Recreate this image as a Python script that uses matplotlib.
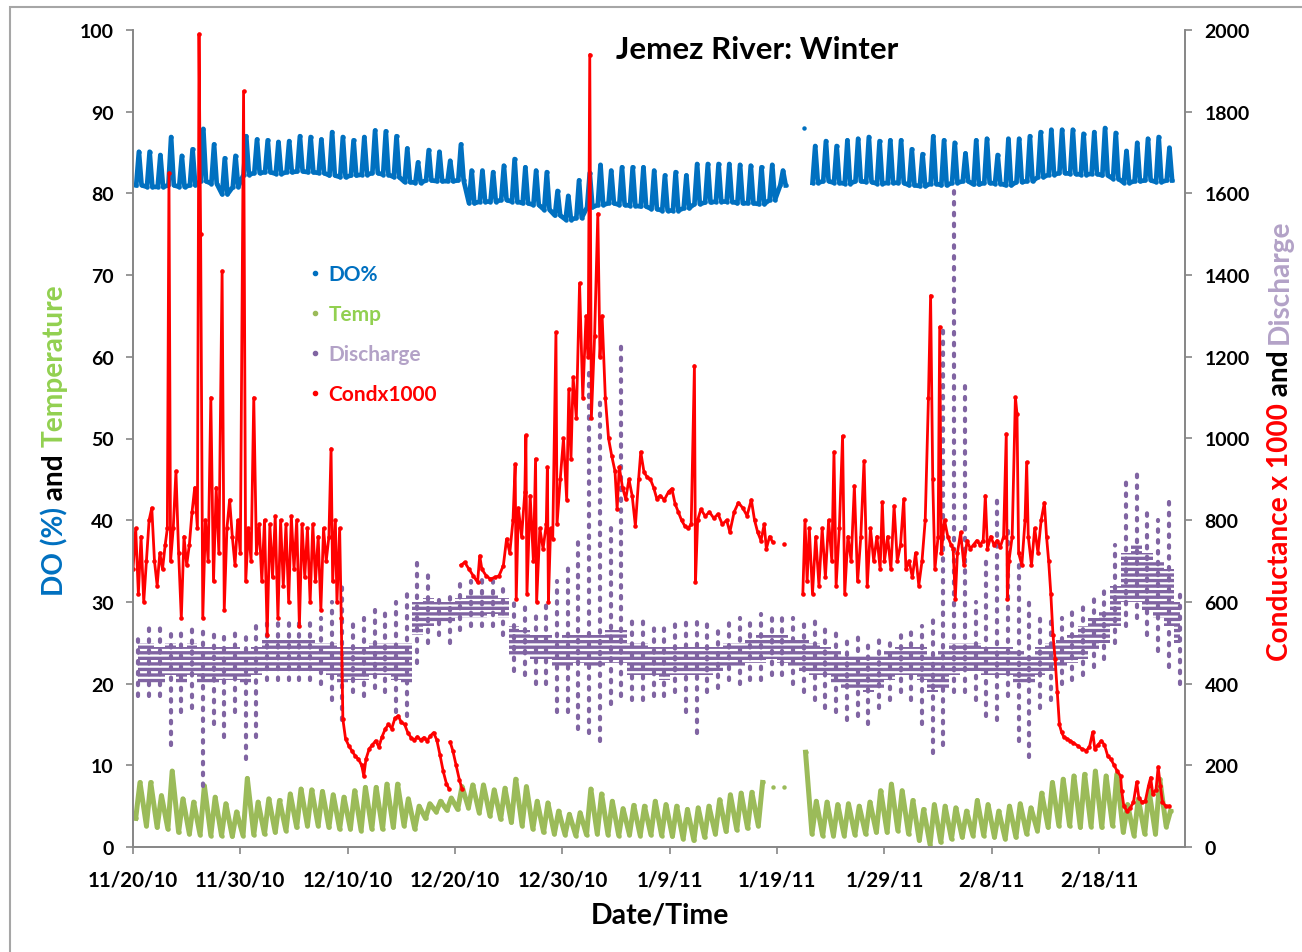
import numpy as np
import matplotlib
matplotlib.use("Agg")
import matplotlib.pyplot as plt
from matplotlib.lines import Line2D
from matplotlib.patches import Rectangle

nan = np.nan

# day 0 = 11/20/10, one value per day
date_labels = ["11/20/10", "11/30/10", "12/10/10", "12/20/10", "12/30/10",
               "1/9/11", "1/19/11", "1/29/11", "2/8/11", "2/18/11"]

# DO % : daily peak and daily base
do_hi = [85.1, 85.1, 84.7, 86.9, 84.6, 85.4, 87.9, 86.0, 84.3, 84.6,
         87.0, 86.6, 86.5, 86.3, 86.4, 87.0, 86.9, 86.6, 87.5, 86.9,
         86.5, 86.9, 87.7, 87.6, 87.0, 85.5, 83.8, 85.3, 85.1, 84.0,
         86.0, 82.8, 82.8, 82.6, 83.4, 84.2, 83.2, 82.8, 82.6, 80.3,
         79.7, 81.6, 82.5, 83.5, 82.8, 83.2, 83.2, 83.2, 82.8, 82.2,
         82.6, 82.2, 83.6, 83.6, 83.6, 83.6, 83.5, 83.4, 83.2, 83.5,
         82.8, nan, 88.0, 85.8, 86.4, 85.8, 86.5, 86.7, 86.9, 86.4,
         86.5, 86.5, 85.4, 84.8, 87.0, 86.5, 86.2, 84.9, 86.5, 86.7,
         84.7, 86.7, 86.7, 87.0, 87.5, 87.8, 87.8, 87.8, 87.3, 87.5,
         88.0, 87.4, 85.2, 86.2, 86.7, 86.9, 85.6]
do_lo = [81.0, 80.8, 80.8, 81.0, 80.8, 81.0, 81.5, 81.2, 79.9, 80.8,
         82.3, 82.5, 82.6, 82.4, 82.6, 82.7, 82.6, 82.5, 82.2, 82.0,
         82.2, 82.3, 82.5, 82.3, 82.0, 81.4, 81.3, 81.6, 81.5, 81.5,
         81.6, 78.8, 79.0, 79.0, 79.2, 79.0, 78.8, 78.6, 78.0, 77.3,
         76.8, 77.0, 78.3, 78.6, 78.8, 78.6, 78.5, 78.4, 78.1, 77.9,
         77.9, 78.2, 78.7, 78.9, 79.0, 79.0, 78.8, 78.8, 78.7, 79.2,
         81.0, nan, nan, 81.3, 81.5, 81.3, 81.2, 81.5, 81.4, 81.2,
         81.3, 81.3, 81.0, 80.9, 81.2, 81.0, 81.3, 81.5, 81.1, 81.3,
         81.2, 81.0, 81.4, 81.5, 82.0, 82.3, 82.5, 82.4, 82.3, 82.4,
         82.2, 81.8, 81.3, 81.5, 81.6, 81.4, 81.6]

# Temperature : daily max and min
temp_hi = [7.9, 7.9, 6.3, 9.3, 5.9, 5.5, 7.5, 6.1, 5.3, 4.3,
           8.4, 5.5, 5.9, 5.7, 6.5, 7.1, 7.0, 6.8, 6.4, 6.1,
           6.9, 7.3, 7.3, 7.7, 7.7, 5.9, 5.0, 5.3, 5.6, 6.0,
           7.4, 7.6, 7.6, 7.0, 7.2, 8.3, 7.4, 5.6, 5.4, 4.4,
           4.0, 4.2, 7.1, 6.5, 5.6, 4.7, 5.1, 5.0, 5.6, 5.2,
           5.0, 4.6, 4.8, 5.0, 5.8, 6.4, 6.6, 6.7, 7.9, 7.3,
           7.3, nan, 11.6, 5.6, 5.5, 5.2, 5.3, 5.0, 5.5, 6.9,
           7.7, 6.9, 5.7, 4.6, 5.2, 5.0, 4.8, 4.4, 5.7, 5.2,
           4.4, 5.0, 5.3, 4.8, 6.6, 7.9, 8.3, 8.7, 8.9, 9.3,
           8.7, 8.9, 5.2, 5.9, 6.9, 8.3, 4.4]
temp_lo = [3.5, 2.6, 2.4, 2.2, 1.8, 1.6, 1.5, 1.4, 1.4, 1.3,
           1.4, 1.5, 1.6, 1.8, 2.0, 2.4, 2.6, 2.6, 2.4, 2.2,
           2.2, 2.0, 2.2, 2.2, 2.4, 2.6, 2.2, 3.5, 4.3, 4.5,
           4.6, 4.8, 4.2, 3.8, 3.4, 3.0, 2.6, 2.2, 1.8, 1.6,
           1.5, 1.4, 1.5, 1.6, 1.5, 1.4, 1.5, 1.4, 1.5, 1.4,
           1.3, 1.0, 0.8, 1.2, 1.6, 1.9, 2.1, 2.3, 2.6, nan,
           nan, nan, nan, 1.6, 1.4, 1.4, 1.4, 1.5, 1.6, 1.8,
           1.8, 2.0, 1.6, 0.8, 0.3, 0.6, 1.0, 1.2, 1.4, 1.4,
           1.2, 1.0, 1.2, 1.6, 2.0, 2.4, 2.6, 2.6, 2.4, 2.5,
           2.4, 2.6, 1.8, 1.4, 1.6, 1.6, 2.5]

# Discharge : daily core band and full daily range
q_core_lo = [400, 400, 400, 420, 400, 420, 400, 400, 410, 410,
             400, 420, 430, 430, 430, 430, 430, 430, 420, 400,
             410, 410, 420, 420, 410, 400, 520, 540, 550, 550,
             560, 560, 560, 570, 560, 470, 470, 460, 460, 440,
             440, 450, 440, 440, 450, 450, 420, 420, 420, 410,
             420, 420, 420, 420, 430, 440, 440, 450, 450, 460,
             450, 440, 430, 420, 420, 400, 390, 390, 380, 390,
             410, 420, 420, 410, 380, 390, 420, 430, 430, 420,
             420, 420, 400, 400, 420, 430, 440, 450, 460, 480,
             500, 540, 600, 600, 580, 560, 540, 500]
q_core_hi = [500, 500, 490, 500, 490, 500, 490, 490, 490, 490,
             480, 490, 510, 510, 510, 510, 510, 500, 500, 490,
             490, 490, 500, 500, 500, 500, 600, 610, 600, 600,
             610, 620, 620, 620, 610, 540, 530, 520, 520, 510,
             520, 520, 520, 520, 530, 530, 500, 500, 490, 490,
             490, 490, 490, 490, 490, 500, 500, 510, 520, 520,
             520, 510, 510, 500, 490, 480, 470, 470, 470, 470,
             480, 490, 490, 490, 470, 480, 500, 500, 500, 490,
             490, 490, 480, 470, 490, 500, 510, 520, 540, 560,
             580, 640, 720, 740, 720, 700, 680, 600]
q_lo = [370, 370, 370, 250, 330, 340, 150, 300, 270, 330,
        215, 270, 410, 410, 410, 410, 410, 400, 360, 310,
        380, 370, 390, 380, 330, 320, 450, 500, 520, 500,
        530, 540, 540, 540, 520, 430, 420, 400, 400, 330,
        330, 290, 280, 260, 350, 370, 360, 360, 370, 370,
        380, 330, 280, 380, 390, 410, 400, 410, 410, 420,
        420, 400, 380, 360, 340, 330, 310, 320, 300, 340,
        360, 380, 360, 300, 230, 250, 380, 380, 360, 320,
        310, 370, 260, 220, 340, 360, 400, 410, 420, 440,
        460, 500, 540, 560, 520, 480, 440, 400]
q_hi = [520, 540, 540, 540, 530, 540, 530, 530, 530, 530,
        530, 540, 560, 560, 560, 560, 560, 560, 600, 650,
        560, 560, 580, 580, 600, 620, 710, 680, 620, 630,
        650, 650, 660, 650, 650, 600, 590, 580, 600, 650,
        700, 760, 1180, 1100, 800, 1240, 560, 560, 540, 540,
        560, 560, 560, 560, 540, 560, 560, 560, 570, 580,
        560, 560, 560, 560, 540, 540, 520, 520, 510, 520,
        520, 530, 540, 540, 560, 1280, 1610, 1130, 600, 700,
        860, 780, 700, 600, 560, 560, 560, 580, 600, 620,
        640, 740, 900, 920, 820, 800, 850, 620]

# Conductance x 1000 : (day, value), nan breaks the trace
cond = [(0.0, 680), (0.25, 780), (0.5, 620), (0.75, 760), (1.0, 600), (1.25, 700),
        (1.5, 800), (1.75, 830), (2.0, 700), (2.25, 640), (2.5, 720), (2.75, 680),
        (3.0, 740), (3.2, 780), (3.35, 1650), (3.5, 700), (3.75, 780), (4.0, 920),
        (4.25, 720), (4.5, 560), (4.75, 760), (5.0, 690), (5.25, 740), (5.5, 820),
        (5.75, 880), (6.0, 780), (6.15, 1990), (6.3, 1500), (6.5, 560), (6.75, 800),
        (7.0, 700), (7.25, 1100), (7.5, 650), (7.75, 880), (8.0, 720), (8.3, 1410),
        (8.5, 580), (8.75, 780), (9.0, 850), (9.25, 760), (9.5, 690), (9.75, 800),
        (10.0, 720), (10.3, 1850), (10.5, 650), (10.75, 780), (11.0, 700), (11.25, 1100),
        (11.5, 720), (11.75, 790), (12.0, 650), (12.25, 800), (12.5, 520), (12.75, 790),
        (13.0, 660), (13.25, 810), (13.5, 560), (13.75, 800), (14.0, 640), (14.25, 790),
        (14.5, 600), (14.75, 810), (15.0, 680), (15.25, 800), (15.5, 540), (15.75, 790),
        (16.0, 660), (16.25, 780), (16.5, 600), (16.75, 790), (17.0, 650), (17.25, 760),
        (17.5, 580), (17.75, 780), (18.0, 700), (18.25, 760), (18.45, 975), (18.6, 650),
        (18.85, 800), (19.0, 600), (19.25, 780), (19.4, 560),
        (19.55, 313), (19.8, 265), (20.1, 248), (20.4, 235), (20.7, 223), (21.0, 215),
        (21.3, 200), (21.5, 174), (21.7, 215), (22.0, 240), (22.3, 250), (22.6, 260),
        (22.9, 245), (23.2, 270), (23.5, 289), (23.8, 300), (24.1, 290), (24.4, 315),
        (24.7, 321), (25.0, 305), (25.3, 300), (25.6, 280), (25.9, 268), (26.2, 262),
        (26.5, 270), (26.8, 262), (27.1, 268), (27.4, 260), (27.7, 272), (28.0, 280),
        (28.3, 262), (28.6, 225), (28.9, 185), (29.2, 155), (29.45, 142), (29.5, nan),
        (29.55, 257), (29.8, 235), (30.1, 200), (30.4, 165), (30.65, 142), (30.7, nan),
        (30.55, 690), (30.9, 697), (31.3, 680), (31.7, 664), (32.1, 648), (32.3, 713),
        (32.5, 680), (32.9, 664), (33.3, 656), (33.7, 660), (34.1, 664), (34.5, 689),
        (34.8, 754), (35.1, 720), (35.4, 800), (35.6, 937), (35.7, 607), (35.9, 830),
        (36.2, 760), (36.5, 868), (36.6, 1008), (36.7, 620), (37.0, 860), (37.3, 700),
        (37.5, 950), (37.6, 600), (37.9, 780), (38.2, 730), (38.5, 790), (38.6, 930),
        (38.7, 600), (38.9, 780), (39.1, 755), (39.4, 1260), (39.5, 790), (39.8, 900),
        (40.1, 1000), (40.4, 850), (40.6, 1120), (40.8, 950), (41.0, 1150), (41.3, 1050),
        (41.6, 1380), (41.9, 1100), (42.2, 1300), (42.4, 1200), (42.55, 1940), (42.7, 1050),
        (43.0, 1250), (43.3, 1550), (43.5, 1200), (43.7, 1300), (44.0, 1100), (44.3, 1000),
        (44.6, 957), (44.9, 920), (45.1, 827), (45.3, 930), (45.6, 880), (45.9, 852),
        (46.2, 900), (46.5, 860), (46.8, 786), (47.1, 900), (47.3, 967), (47.6, 918),
        (47.9, 905), (48.2, 900), (48.5, 880), (48.8, 852), (49.1, 860), (49.5, 850),
        (49.9, 870), (50.2, 877), (50.5, 840), (50.8, 820), (51.1, 800), (51.4, 786),
        (51.7, 780), (52.0, 790), (52.3, 1178), (52.4, 648), (52.6, 800), (52.9, 827),
        (53.3, 810), (53.7, 820), (54.1, 805), (54.5, 815), (54.9, 790), (55.3, 800),
        (55.6, 771), (56.0, 820), (56.4, 843), (56.8, 830), (57.2, 811), (57.6, 850),
        (57.9, 800), (58.2, 770), (58.5, 750), (58.8, 790), (59.0, 730), (59.3, 760),
        (59.6, 746), (60.0, nan), (60.6, 742), (61.0, nan),
        (62.4, 620), (62.6, 800), (62.8, 650), (63.0, 780), (63.3, 620), (63.6, 760),
        (63.9, 640), (64.2, 780), (64.5, 660), (64.8, 800), (65.1, 700), (65.3, 967),
        (65.5, 640), (65.8, 780), (66.1, 1006), (66.3, 620), (66.6, 760), (66.9, 700),
        (67.2, 884), (67.5, 650), (67.8, 760), (68.1, 945), (68.4, 640), (68.7, 780),
        (69.0, 700), (69.3, 760), (69.6, 680), (69.8, 844), (70.0, 700), (70.3, 760),
        (70.6, 680), (70.9, 835), (71.2, 700), (71.5, 740), (71.8, 852), (72.0, 680),
        (72.3, 700), (72.6, 660), (72.9, 720), (73.2, 640), (73.5, 700), (73.8, 800),
        (74.1, 1100), (74.3, 1350), (74.5, 900), (74.7, 680), (75.0, 760), (75.15, 1273),
        (75.3, 720), (75.6, 800), (75.9, 760), (76.2, 740), (76.4, 730), (76.6, 607),
        (76.8, 720), (77.1, 770), (77.4, 690), (77.7, 750), (78.0, 730), (78.3, 740),
        (78.6, 750), (78.9, 740), (79.2, 750), (79.4, 860), (79.6, 730), (79.9, 760),
        (80.2, 740), (80.5, 750), (80.8, 735), (81.1, 760), (81.35, 1011), (81.45, 607),
        (81.6, 700), (81.9, 760), (82.2, 1101), (82.35, 1060), (82.5, 720), (82.8, 690),
        (83.1, 800), (83.25, 942), (83.4, 760), (83.7, 690), (84.0, 780), (84.3, 720),
        (84.6, 800), (84.9, 843), (85.1, 760), (85.3, 700), (85.5, 620), (85.7, 520),
        (85.9, 460), (86.1, 380), (86.3, 300), (86.5, 281),
        (86.7, 270), (87.0, 265), (87.3, 260), (87.6, 255), (88.0, 248), (88.4, 240),
        (88.8, 236), (89.1, 245), (89.4, 281), (89.6, 240), (89.9, 250), (90.2, 260),
        (90.5, 250), (90.8, 223), (91.1, 215), (91.4, 200), (91.7, 185), (92.0, 174),
        (92.1, 138), (92.3, 100), (92.6, 88), (92.9, 95), (93.2, 110), (93.5, 159),
        (93.7, 120), (94.0, 110), (94.3, 112), (94.6, 150), (94.8, 170), (95.0, 130),
        (95.3, 140), (95.5, 196), (95.7, 150), (95.9, 110), (96.2, 100), (96.5, 100)]

c_do = "#0070C0"
c_temp = "#9BBB59"
c_q = "#8064A2"
c_q_text = "#B3A2C7"
c_cond = "#FF0000"
c_temp_text = "#92D050"
grey = "#868686"

plt.rcParams["font.family"] = ["Lato", "DejaVu Sans"]
plt.rcParams["font.weight"] = "bold"
plt.rcParams["hatch.linewidth"] = 2.4

W, H = 1302, 953
fig = plt.figure(figsize=(W / 100, H / 100), dpi=100)
ax = fig.add_axes([133 / W, 1 - 848 / H, (1185 - 133) / W, (848 - 31) / H])
ax2 = ax.twinx()

# DO: base - peak - base each day
d = np.arange(len(do_hi))
do_t = np.column_stack([d + 0.3, d + 0.55, d + 0.8]).ravel()
do_v = np.column_stack([do_lo, do_hi, do_lo]).ravel()
ax.plot(do_t, do_v, color=c_do, lw=3.4, marker="o", ms=3.2, mew=0)

# Temperature: min in the morning, max in the afternoon
d = np.arange(len(temp_hi))
temp_t = np.column_stack([d + 0.25, d + 0.65]).ravel()
temp_v = np.column_stack([temp_lo, temp_hi]).ravel()
ax.plot(temp_t, temp_v, color=c_temp, lw=3.6, marker="o", ms=3.2, mew=0)

# Discharge: striped core band plus dotted columns for the full range
dq = np.arange(len(q_hi)) + 0.5
ax2.fill_between(dq, q_core_lo, q_core_hi, step="mid", facecolor="none",
                 edgecolor=c_q, hatch="---", linewidth=0)
ax2.vlines(dq, q_lo, q_hi, colors=c_q, linestyles=(0, (0.6, 2.0)),
           linewidth=3.0, capstyle="round")

# Conductance
cond_t = np.array([p[0] for p in cond])
cond_v = np.array([p[1] for p in cond], dtype=float)
ax2.plot(cond_t, cond_v, color=c_cond, lw=2.0, marker="o", ms=3.3, mew=0)

ax.set_xlim(0, 98)
ax.set_ylim(0, 100)
ax2.set_ylim(0, 2000)
ax.set_xticks(np.arange(0, 100, 10))
ax.set_xticklabels(date_labels)
ax.set_yticks(np.arange(0, 101, 10))
ax2.set_yticks(np.arange(0, 2001, 200))

for a in (ax, ax2):
    a.spines["top"].set_visible(False)
    for s in ("left", "right", "bottom"):
        a.spines[s].set_color(grey)
        a.spines[s].set_linewidth(1.2)
    a.tick_params(colors=grey, labelcolor="black", labelsize=14, length=5,
                  width=1.2, direction="out")
ax.tick_params(axis="x", pad=11, labelsize=14.8)
ax.tick_params(axis="y", pad=9)
ax2.tick_params(axis="y", pad=9)

ax.text(0.593, 0.977, "Jemez River: Winter", transform=ax.transAxes,
        ha="center", va="center", fontsize=22.5, fontweight="bold")
fig.text(660 / W, 1 - 916 / H, "Date/Time", ha="center", va="center",
         fontsize=20.5, fontweight="bold")

handles = [Line2D([], [], ls="", marker="o", ms=3, color=c) for c in (c_do, c_temp, c_q, c_cond)]
ax2.legend(handles, ["DO%", "Temp", "Discharge", "Condx1000"],
           labelcolor=[c_do, c_temp_text, c_q_text, c_cond],
           loc="upper left", bbox_to_anchor=(0.158, 0.726), frameon=False,
           prop={"size": 15, "weight": "bold"}, handlelength=0.5,
           handletextpad=0.4, labelspacing=0.96, borderpad=0)

# chart border (only left and top visible)
fig.add_artist(Rectangle((10 / W, -0.05), 1.2, 1.05 - 8 / H, transform=fig.transFigure,
                         fill=False, edgecolor="#A6A6A6", lw=1.5))


def vlabel(xc, yc, parts, size):
    texts = [fig.text(0, 0, s, color=c, rotation=90, fontsize=size,
                      fontweight="bold", ha="center", va="bottom") for s, c in parts]
    fig.canvas.draw()
    r = fig.canvas.get_renderer()
    hs = [t.get_window_extent(r).height for t in texts]
    y = (H - yc) - sum(hs) / 2
    for t, h in zip(texts, hs):
        t.set_position((xc / W, y / H))
        y += h


vlabel(55, 440, [("DO (%)", c_do), (" and ", "black"), ("Temperature", c_temp_text)], 20.2)
vlabel(1280, 440, [("Conductance x 1000", c_cond), (" and ", "black"),
                   ("Discharge", c_q_text)], 20.2)

fig.savefig("out.png", dpi=100)
